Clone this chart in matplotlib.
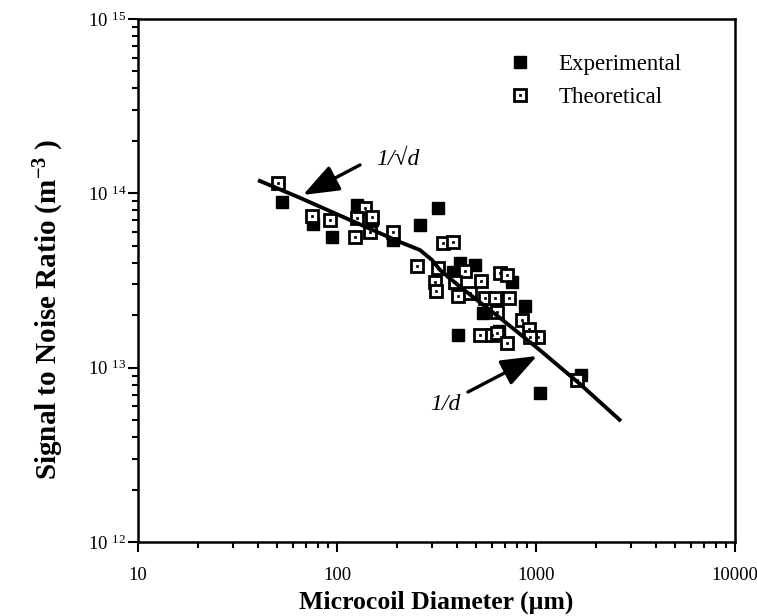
import matplotlib
matplotlib.use("Agg")
import matplotlib.pyplot as plt
from matplotlib.ticker import LogLocator, FixedLocator, NullFormatter

plt.rcParams['font.family'] = ['Liberation Serif', 'DejaVu Serif']
plt.rcParams['mathtext.fontset'] = 'custom'
plt.rcParams['mathtext.rm'] = 'Liberation Serif'
plt.rcParams['mathtext.it'] = 'Liberation Serif:italic'
plt.rcParams['mathtext.bf'] = 'Liberation Serif:bold'

# ---- data ----
exp_d = [52.9, 75.7, 94.4, 126.1, 150, 191, 321.8, 261, 415, 494, 757, 542,
         881, 406, 1047, 1683, 383, 392, 650]
exp_snr = [8.93e13, 6.68e13, 5.62e13, 8.58e13, 7.04e13, 5.40e13, 8.25e13, 6.59e13,
           3.99e13, 3.88e13, 3.10e13, 2.06e13, 2.26e13, 1.54e13, 7.16e12, 9.08e12,
           3.54e13, 3.06e13, 1.62e13]

theo_d = [50.5, 74.9, 92.2, 123.2, 138.2, 126.1, 150, 146.5, 191, 341, 383, 252,
          322, 311, 316, 440, 392, 406, 466, 529, 554, 622, 731, 659, 715, 637,
          851, 922, 1024, 933, 523, 601, 637, 715, 1607]
theo_snr = [1.147e14, 7.42e13, 7.04e13, 5.62e13, 8.25e13, 7.22e13, 7.32e13, 6.00e13,
            6.00e13, 5.19e13, 5.26e13, 3.83e13, 3.73e13, 3.10e13, 2.75e13, 3.59e13,
            3.10e13, 2.58e13, 2.68e13, 3.14e13, 2.51e13, 2.51e13, 2.51e13, 3.49e13,
            3.40e13, 2.09e13, 1.88e13, 1.67e13, 1.50e13, 1.50e13, 1.54e13, 1.54e13,
            1.58e13, 1.39e13, 8.50e12]

curve_d = [40.1, 65.2, 116, 207, 261, 300, 329, 415, 659, 1047, 1663, 2673]
curve_snr = [1.19e14, 9.42e13, 7.04e13, 5.26e13, 4.73e13, 4.15e13, 3.64e13,
             2.91e13, 1.93e13, 1.26e13, 8.06e12, 4.94e12]

x_ticks = [10, 100, 1000, 10000]
x_ticklabels = ['10', '100', '1000', '10000']
y_ticks = [1e12, 1e13, 1e14, 1e15]
y_ticklabels = ['10 $^{12}$', '10 $^{13}$', '10 $^{14}$', '10 $^{15}$']

# annotation anchor points (data coords)
ann_sqrt = dict(text='1/√d', tip=(67.5, 9.79e13), tail=(130.5, 1.455e14), pos=(202.6, 1.555e14))
ann_lin = dict(text='1/d', tip=(1012, 1.167e13), tail=(455, 7.25e12), pos=(349, 6.11e12))

W, H = 757, 616
fig = plt.figure(figsize=(W / 100, H / 100), dpi=100)
ax = fig.add_axes([138 / W, 1 - 542 / H, (735 - 138) / W, (542 - 19) / H])
ax.set_xscale('log')
ax.set_yscale('log')
ax.set_xlim(10, 10000)
ax.set_ylim(1e12, 1e15)

ax.plot(curve_d, curve_snr, color='black', lw=2.8, zorder=4, solid_capstyle='butt')

h_exp, = ax.plot(exp_d, exp_snr, ls='none', marker='s', ms=8.5, mfc='black',
                 mec='black', zorder=3)
h_th1, = ax.plot(theo_d, theo_snr, ls='none', marker='s', ms=8, mfc='white',
                 mec='black', mew=2.0, zorder=3)
h_th2, = ax.plot(theo_d, theo_snr, ls='none', marker='s', ms=1.8, mfc='black',
                 mec='black', mew=0.5, zorder=3)

# axes styling
for s in ax.spines.values():
    s.set_linewidth(1.8)
ax.xaxis.set_major_locator(FixedLocator(x_ticks))
ax.set_xticklabels(x_ticklabels)
ax.yaxis.set_major_locator(FixedLocator(y_ticks))
ax.set_yticklabels(y_ticklabels)
ax.xaxis.set_minor_locator(LogLocator(base=10, subs=range(2, 10)))
ax.yaxis.set_minor_locator(LogLocator(base=10, subs=range(2, 10)))
ax.xaxis.set_minor_formatter(NullFormatter())
ax.yaxis.set_minor_formatter(NullFormatter())
ax.tick_params(which='both', direction='out', top=False, right=False,
               width=1.5, labelsize=13.5)
ax.tick_params(which='major', length=7)
ax.tick_params(which='minor', length=4.5)
ax.tick_params(axis='x', pad=11)
ax.tick_params(axis='y', pad=1.5)

ax.set_xlabel('Microcoil Diameter (µm)', fontsize=18.5, fontweight='bold', labelpad=5)
ax.set_ylabel('Signal to Noise Ratio (m$^{\\mathbf{-3}}$ )', fontsize=21,
              fontweight='bold')
ax.yaxis.set_label_coords(66 / W, 1 - 309 / H, transform=fig.transFigure)

# annotations
for a in (ann_sqrt, ann_lin):
    ax.annotate('', xy=a['tip'], xytext=a['tail'],
                arrowprops=dict(arrowstyle='-|>,head_length=1.0,head_width=0.38',
                                color='black', lw=2.4, mutation_scale=22,
                                shrinkA=0, shrinkB=0), zorder=5)
    ax.text(a['pos'][0], a['pos'][1], a['text'], fontsize=17, style='italic',
            ha='center', va='center',
            family=['Liberation Serif', 'DejaVu Serif'])

leg = ax.legend([h_exp, (h_th1, h_th2)], ['Experimental', 'Theoretical'],
                loc='upper left', bbox_to_anchor=(509 / W, 1 - 54 / H),
                bbox_transform=fig.transFigure, frameon=False, fontsize=16.5,
                handlelength=1.0, handletextpad=1.15, borderpad=0,
                borderaxespad=0, labelspacing=0.5)

fig.savefig('out.png', dpi=100)
